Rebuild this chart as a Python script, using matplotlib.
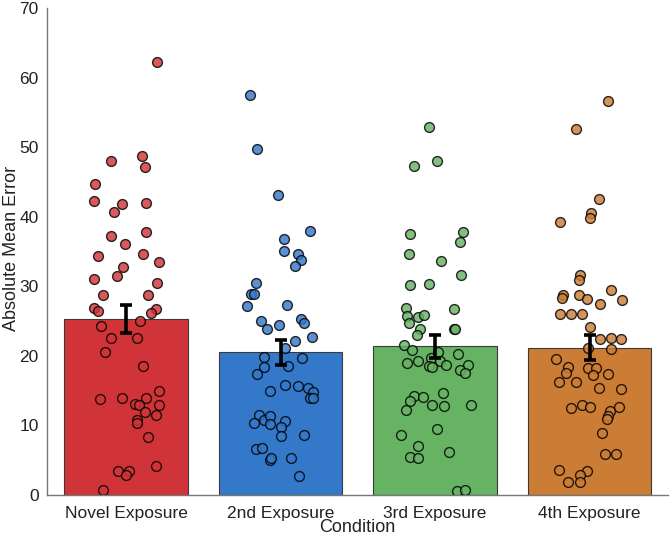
import matplotlib
matplotlib.use("Agg")
import matplotlib.pyplot as plt
import numpy as np

categories = ["Novel Exposure", "2nd Exposure", "3rd Exposure", "4th Exposure"]
means = [25.3, 20.5, 21.4, 21.2]
sems = [2.05, 1.8, 1.65, 1.8]
colors = ["#D13438", "#3479C9", "#66B363", "#CC7D35"]

novel_vals = [62.3, 48.0, 48.8, 47.2, 44.7, 42.3, 40.7, 41.9, 42.0, 37.2, 37.8, 36.1,
              34.3, 34.7, 33.5, 32.8, 31.5, 31.0, 30.5, 28.7, 28.7, 26.9, 26.5, 26.8,
              26.2, 24.3, 25.0, 22.6, 22.6, 20.5, 18.5, 15.0, 13.8, 14.0, 14.0, 13.1,
              12.9, 12.9, 11.9, 11.5, 10.8, 10.3, 8.4, 4.2, 3.5, 3.5, 2.9, 0.7]
novel_jit = [0.20, -0.10, 0.10, 0.12, -0.20, -0.21, -0.08, -0.03, 0.13, -0.10, 0.13, -0.01,
             -0.18, 0.11, 0.21, -0.02, -0.06, -0.21, 0.20, -0.15, 0.14, -0.21, -0.18, 0.19,
             0.16, -0.16, 0.09, -0.10, 0.07, -0.14, 0.11, 0.21, -0.17, -0.03, 0.13, 0.06,
             0.08, 0.21, 0.12, 0.19, 0.07, 0.07, 0.14, 0.19, -0.05, 0.02, 0.00, -0.15]

second_vals = [57.5, 49.8, 43.1, 38.0, 36.8, 35.1, 34.7, 33.8, 33.0, 30.5, 28.9, 28.9,
               27.2, 27.3, 25.0, 23.9, 24.5, 25.3, 24.7, 22.7, 22.2, 21.1, 19.9, 19.7,
               18.6, 18.4, 17.4, 14.9, 15.8, 15.7, 15.4, 14.8, 13.9, 14.0, 11.5, 10.8,
               11.3, 10.3, 10.2, 10.7, 9.8, 8.5, 8.6, 6.6, 6.8, 5.0, 5.3, 5.3, 2.8]
second_jit = [-0.20, -0.15, -0.02, 0.19, 0.02, 0.02, 0.11, 0.13, 0.09, -0.16, -0.19, -0.17,
              -0.22, 0.04, -0.13, -0.09, -0.01, 0.13, 0.15, 0.20, 0.09, 0.03, -0.11, 0.14,
              0.05, -0.11, -0.15, -0.07, 0.03, 0.11, 0.18, 0.21, 0.19, 0.21, -0.14, -0.11,
              -0.07, -0.17, -0.07, 0.03, 0.00, 0.00, 0.15, -0.16, -0.12, -0.07, -0.06, 0.07, 0.12]

third_vals = [52.9, 48.0, 47.3, 37.5, 37.8, 36.4, 34.7, 33.6, 31.7, 30.2, 30.3, 26.9,
              26.7, 25.7, 25.6, 25.9, 24.7, 23.8, 23.0, 23.9, 23.9, 21.5, 20.8, 20.6,
              20.3, 19.0, 19.3, 19.7, 19.2, 18.5, 18.4, 18.7, 18.7, 18.0, 17.6, 14.3,
              13.5, 14.1, 14.6, 12.2, 12.9, 12.8, 13.0, 9.5, 8.7, 7.1, 6.2, 5.5, 5.3, 0.6, 0.7]
third_jit = [-0.04, 0.01, -0.14, -0.16, 0.18, 0.16, -0.17, 0.04, 0.17, -0.16, -0.04, -0.19,
             0.12, -0.18, -0.11, -0.07, -0.17, -0.10, -0.12, 0.12, 0.13, -0.20, -0.15, 0.02,
             0.15, -0.18, -0.11, -0.03, 0.03, -0.04, -0.02, 0.07, 0.21, 0.16, 0.19, -0.14,
             -0.16, -0.08, 0.05, -0.19, -0.02, 0.06, 0.23, 0.01, -0.22, -0.11, 0.09, -0.16,
             -0.11, 0.14, 0.19]

fourth_vals = [56.6, 52.6, 42.6, 40.5, 39.9, 39.3, 31.6, 30.9, 28.7, 28.3, 28.8, 28.2,
               29.5, 28.1, 27.4, 26.0, 26.0, 26.0, 24.2, 22.5, 22.6, 22.5, 21.1, 21.0,
               19.5, 18.4, 17.5, 18.3, 18.2, 17.3, 17.4, 16.2, 16.2, 15.4, 15.3, 12.5,
               13.0, 12.6, 12.1, 11.4, 11.0, 12.7, 8.9, 5.9, 5.9, 3.6, 3.4, 2.9, 1.9, 1.9]
fourth_jit = [0.12, -0.09, 0.06, 0.01, 0.00, -0.19, -0.06, -0.07, -0.17, -0.18, -0.07, -0.02,
              0.14, 0.21, 0.07, -0.19, -0.12, -0.05, 0.00, 0.07, 0.14, 0.20, -0.01, 0.14,
              -0.22, -0.14, -0.15, -0.01, 0.04, 0.02, 0.12, -0.20, -0.09, 0.06, 0.20, -0.12,
              -0.05, 0.00, 0.13, 0.12, 0.11, 0.19, 0.08, 0.10, 0.17, -0.20, -0.02, -0.06,
              -0.14, -0.06]

all_vals = [novel_vals, second_vals, third_vals, fourth_vals]
all_jit = [novel_jit, second_jit, third_jit, fourth_jit]

plt.rcParams['font.family'] = ['Liberation Sans', 'DejaVu Sans']

fig = plt.figure(figsize=(6.7, 5.45), dpi=100)
ax = fig.add_axes([0.070, 0.0917, 0.927, 0.8933])

x = np.arange(len(categories))
ax.bar(x, means, width=0.80, color=colors, edgecolor="#3a3a3a", linewidth=0.8, zorder=1)

for i, (vals, jit) in enumerate(zip(all_vals, all_jit)):
    xs = i + np.array(jit)
    ax.scatter(xs, vals, s=50, facecolor=colors[i], edgecolor="black",
               linewidth=1.0, alpha=0.82, zorder=2)

ax.errorbar(x, means, yerr=sems, fmt="none", ecolor="black", elinewidth=2.6,
            capsize=4.5, capthick=2.6, zorder=3)

ax.set_xlim(-0.513, 3.507)
ax.set_ylim(0, 70)
ax.set_yticks(np.arange(0, 71, 10))
ax.set_xticks(x)
ax.set_xticklabels(categories)
ax.tick_params(axis="both", length=0, labelsize=12.5, colors="#222222")
ax.tick_params(axis="y", pad=6)
ax.tick_params(axis="x", pad=8)
ax.set_xlabel("Condition", fontsize=13, color="#222222")
ax.set_ylabel("Absolute Mean Error", fontsize=13, color="#222222")
ax.xaxis.set_label_coords(0.5, -0.049)
ax.yaxis.set_label_coords(-0.044, 0.507)

for s in ["top", "right"]:
    ax.spines[s].set_visible(False)
for s in ["left", "bottom"]:
    ax.spines[s].set_color("#777777")
    ax.spines[s].set_linewidth(1.0)

fig.savefig("out.png", dpi=100)
